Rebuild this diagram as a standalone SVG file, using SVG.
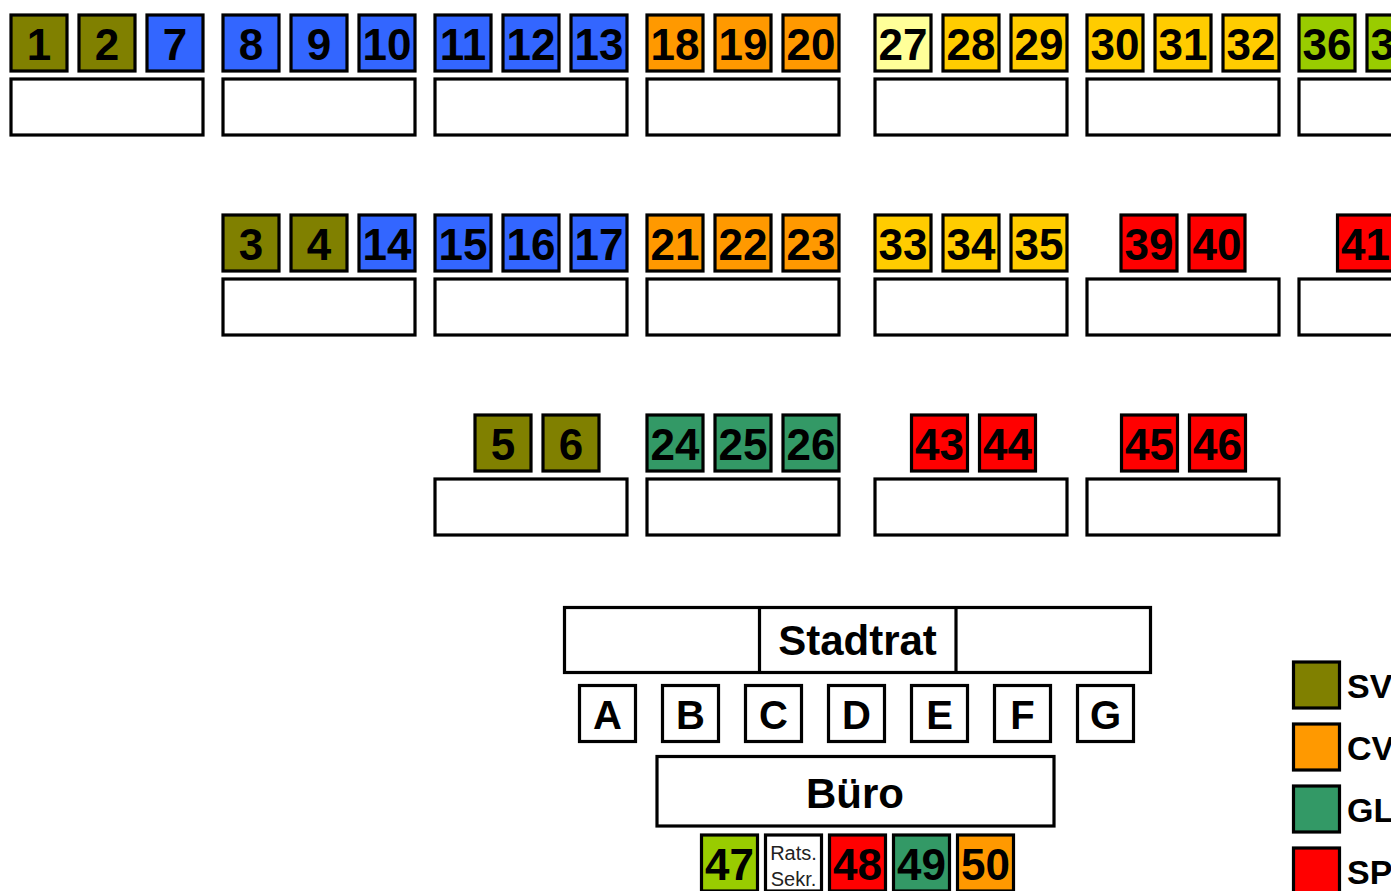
<svg xmlns="http://www.w3.org/2000/svg" width="1391" height="891" viewBox="0 0 1391 891">
<style>
rect{stroke:#000;stroke-width:3.2}
rect.bg{stroke:none;fill:#fff}
.desk{fill:#fff}
.sv{fill:#808000}.bl{fill:#3366ff}.cv{fill:#ff9900}.ye{fill:#ffcc00}.ly{fill:#ffff99}.yg{fill:#99cc00}.gl{fill:#339966}.sp{fill:#ff0000}.wh{fill:#fff}
text{font-family:"Liberation Sans",Arial,sans-serif;fill:#000;text-anchor:middle}
.n{font-size:44px;font-weight:bold}
.l{font-size:40px;font-weight:bold}
.t{font-size:42px;font-weight:bold}
.s{font-size:20px;fill:#222}
.lg{font-size:34px;font-weight:bold;text-anchor:start}
</style>
<rect class="bg" x="0" y="0" width="1391" height="891"/>
<g id="connectors"/>
<!-- Row 1 -->
<g id="desk-r1-1"><rect class="desk" x="11" y="79" width="192" height="56"/></g>
<g id="seat-1"><rect class="sv" x="11" y="15" width="56" height="56"/><text class="n" x="39" y="59.5">1</text></g>
<g id="seat-2"><rect class="sv" x="79" y="15" width="56" height="56"/><text class="n" x="107" y="59.5">2</text></g>
<g id="seat-7"><rect class="bl" x="147" y="15" width="56" height="56"/><text class="n" x="175" y="59.5">7</text></g>
<g id="desk-r1-2"><rect class="desk" x="223" y="79" width="192" height="56"/></g>
<g id="seat-8"><rect class="bl" x="223" y="15" width="56" height="56"/><text class="n" x="251" y="59.5">8</text></g>
<g id="seat-9"><rect class="bl" x="291" y="15" width="56" height="56"/><text class="n" x="319" y="59.5">9</text></g>
<g id="seat-10"><rect class="bl" x="359" y="15" width="56" height="56"/><text class="n" x="387" y="59.5">10</text></g>
<g id="desk-r1-3"><rect class="desk" x="435" y="79" width="192" height="56"/></g>
<g id="seat-11"><rect class="bl" x="435" y="15" width="56" height="56"/><text class="n" x="463" y="59.5">11</text></g>
<g id="seat-12"><rect class="bl" x="503" y="15" width="56" height="56"/><text class="n" x="531" y="59.5">12</text></g>
<g id="seat-13"><rect class="bl" x="571" y="15" width="56" height="56"/><text class="n" x="599" y="59.5">13</text></g>
<g id="desk-r1-4"><rect class="desk" x="647" y="79" width="192" height="56"/></g>
<g id="seat-18"><rect class="cv" x="647" y="15" width="56" height="56"/><text class="n" x="675" y="59.5">18</text></g>
<g id="seat-19"><rect class="cv" x="715" y="15" width="56" height="56"/><text class="n" x="743" y="59.5">19</text></g>
<g id="seat-20"><rect class="cv" x="783" y="15" width="56" height="56"/><text class="n" x="811" y="59.5">20</text></g>
<g id="desk-r1-5"><rect class="desk" x="875" y="79" width="192" height="56"/></g>
<g id="seat-27"><rect class="ly" x="875" y="15" width="56" height="56"/><text class="n" x="903" y="59.5">27</text></g>
<g id="seat-28"><rect class="ye" x="943" y="15" width="56" height="56"/><text class="n" x="971" y="59.5">28</text></g>
<g id="seat-29"><rect class="ye" x="1011" y="15" width="56" height="56"/><text class="n" x="1039" y="59.5">29</text></g>
<g id="desk-r1-6"><rect class="desk" x="1087" y="79" width="192" height="56"/></g>
<g id="seat-30"><rect class="ye" x="1087" y="15" width="56" height="56"/><text class="n" x="1115" y="59.5">30</text></g>
<g id="seat-31"><rect class="ye" x="1155" y="15" width="56" height="56"/><text class="n" x="1183" y="59.5">31</text></g>
<g id="seat-32"><rect class="ye" x="1223" y="15" width="56" height="56"/><text class="n" x="1251" y="59.5">32</text></g>
<g id="desk-r1-7"><rect class="desk" x="1299" y="79" width="192" height="56"/></g>
<g id="seat-36"><rect class="yg" x="1299" y="15" width="56" height="56"/><text class="n" x="1327" y="59.5">36</text></g>
<g id="seat-37"><rect class="yg" x="1367" y="15" width="56" height="56"/><text class="n" x="1395" y="59.5">37</text></g>
<!-- Row 2 -->
<g id="desk-r2-1"><rect class="desk" x="223" y="279" width="192" height="56"/></g>
<g id="seat-3"><rect class="sv" x="223" y="215" width="56" height="56"/><text class="n" x="251" y="259.5">3</text></g>
<g id="seat-4"><rect class="sv" x="291" y="215" width="56" height="56"/><text class="n" x="319" y="259.5">4</text></g>
<g id="seat-14"><rect class="bl" x="359" y="215" width="56" height="56"/><text class="n" x="387" y="259.5">14</text></g>
<g id="desk-r2-2"><rect class="desk" x="435" y="279" width="192" height="56"/></g>
<g id="seat-15"><rect class="bl" x="435" y="215" width="56" height="56"/><text class="n" x="463" y="259.5">15</text></g>
<g id="seat-16"><rect class="bl" x="503" y="215" width="56" height="56"/><text class="n" x="531" y="259.5">16</text></g>
<g id="seat-17"><rect class="bl" x="571" y="215" width="56" height="56"/><text class="n" x="599" y="259.5">17</text></g>
<g id="desk-r2-3"><rect class="desk" x="647" y="279" width="192" height="56"/></g>
<g id="seat-21"><rect class="cv" x="647" y="215" width="56" height="56"/><text class="n" x="675" y="259.5">21</text></g>
<g id="seat-22"><rect class="cv" x="715" y="215" width="56" height="56"/><text class="n" x="743" y="259.5">22</text></g>
<g id="seat-23"><rect class="cv" x="783" y="215" width="56" height="56"/><text class="n" x="811" y="259.5">23</text></g>
<g id="desk-r2-4"><rect class="desk" x="875" y="279" width="192" height="56"/></g>
<g id="seat-33"><rect class="ye" x="875" y="215" width="56" height="56"/><text class="n" x="903" y="259.5">33</text></g>
<g id="seat-34"><rect class="ye" x="943" y="215" width="56" height="56"/><text class="n" x="971" y="259.5">34</text></g>
<g id="seat-35"><rect class="ye" x="1011" y="215" width="56" height="56"/><text class="n" x="1039" y="259.5">35</text></g>
<g id="desk-r2-5"><rect class="desk" x="1087" y="279" width="192" height="56"/></g>
<g id="seat-39"><rect class="sp" x="1121" y="215" width="56" height="56"/><text class="n" x="1149" y="259.5">39</text></g>
<g id="seat-40"><rect class="sp" x="1189" y="215" width="56" height="56"/><text class="n" x="1217" y="259.5">40</text></g>
<g id="desk-r2-6"><rect class="desk" x="1299" y="279" width="192" height="56"/></g>
<g id="seat-41"><rect class="sp" x="1337.5" y="215" width="56" height="56"/><text class="n" x="1365.5" y="259.5">41</text></g>
<!-- Row 3 -->
<g id="desk-r3-1"><rect class="desk" x="435" y="479" width="192" height="56"/></g>
<g id="seat-5"><rect class="sv" x="475" y="415" width="56" height="56"/><text class="n" x="503" y="459.5">5</text></g>
<g id="seat-6"><rect class="sv" x="543" y="415" width="56" height="56"/><text class="n" x="571" y="459.5">6</text></g>
<g id="desk-r3-2"><rect class="desk" x="647" y="479" width="192" height="56"/></g>
<g id="seat-24"><rect class="gl" x="647" y="415" width="56" height="56"/><text class="n" x="675" y="459.5">24</text></g>
<g id="seat-25"><rect class="gl" x="715" y="415" width="56" height="56"/><text class="n" x="743" y="459.5">25</text></g>
<g id="seat-26"><rect class="gl" x="783" y="415" width="56" height="56"/><text class="n" x="811" y="459.5">26</text></g>
<g id="desk-r3-3"><rect class="desk" x="875" y="479" width="192" height="56"/></g>
<g id="seat-43"><rect class="sp" x="911.5" y="415" width="56" height="56"/><text class="n" x="939.5" y="459.5">43</text></g>
<g id="seat-44"><rect class="sp" x="979.5" y="415" width="56" height="56"/><text class="n" x="1007.5" y="459.5">44</text></g>
<g id="desk-r3-4"><rect class="desk" x="1087" y="479" width="192" height="56"/></g>
<g id="seat-45"><rect class="sp" x="1121.5" y="415" width="56" height="56"/><text class="n" x="1149.5" y="459.5">45</text></g>
<g id="seat-46"><rect class="sp" x="1189.5" y="415" width="56" height="56"/><text class="n" x="1217.5" y="459.5">46</text></g>
<!-- Stadtrat -->
<g id="stadtrat">
<rect class="wh" x="564.5" y="607.5" width="586" height="65"/>
<line x1="759.5" y1="607.5" x2="759.5" y2="672.5" stroke="#000" stroke-width="3.2"/>
<line x1="956" y1="607.5" x2="956" y2="672.5" stroke="#000" stroke-width="3.2"/>
<text class="t" x="857.5" y="655">Stadtrat</text>
</g>
<g id="seat-A"><rect class="wh" x="579.5" y="685.5" width="56" height="56"/><text class="l" x="607.5" y="728.5">A</text></g>
<g id="seat-B"><rect class="wh" x="662.5" y="685.5" width="56" height="56"/><text class="l" x="690.5" y="728.5">B</text></g>
<g id="seat-C"><rect class="wh" x="745.5" y="685.5" width="56" height="56"/><text class="l" x="773.5" y="728.5">C</text></g>
<g id="seat-D"><rect class="wh" x="828.5" y="685.5" width="56" height="56"/><text class="l" x="856.5" y="728.5">D</text></g>
<g id="seat-E"><rect class="wh" x="911.5" y="685.5" width="56" height="56"/><text class="l" x="939.5" y="728.5">E</text></g>
<g id="seat-F"><rect class="wh" x="994.5" y="685.5" width="56" height="56"/><text class="l" x="1022.5" y="728.5">F</text></g>
<g id="seat-G"><rect class="wh" x="1077.5" y="685.5" width="56" height="56"/><text class="l" x="1105.5" y="728.5">G</text></g>
<g id="buero"><rect class="wh" x="657" y="756.5" width="397" height="69.5"/><text class="t" x="855" y="808">Büro</text></g>
<g id="seat-47"><rect class="yg" x="701.5" y="835" width="56" height="56"/><text class="n" x="729.5" y="880">47</text></g>
<g id="seat-rats"><rect class="wh" x="765.5" y="835" width="56" height="56"/><text class="s" x="793.5" y="860">Rats.</text><text class="s" x="793.5" y="886">Sekr.</text></g>
<g id="seat-48"><rect class="sp" x="829.5" y="835" width="56" height="56"/><text class="n" x="857.5" y="880">48</text></g>
<g id="seat-49"><rect class="gl" x="893.5" y="835" width="56" height="56"/><text class="n" x="921.5" y="880">49</text></g>
<g id="seat-50"><rect class="cv" x="957.5" y="835" width="56" height="56"/><text class="n" x="985.5" y="880">50</text></g>
<!-- Legend -->
<g id="legend-sv"><rect class="sv" x="1293.5" y="662" width="46" height="46"/><text class="lg" x="1347" y="698">SV</text></g>
<g id="legend-cv"><rect class="cv" x="1293.5" y="724" width="46" height="46"/><text class="lg" x="1347" y="760">CV</text></g>
<g id="legend-gl"><rect class="gl" x="1293.5" y="786" width="46" height="46"/><text class="lg" x="1347" y="822">GL</text></g>
<g id="legend-sp"><rect class="sp" x="1293.5" y="848" width="46" height="46"/><text class="lg" x="1347" y="884">SP</text></g>
</svg>
